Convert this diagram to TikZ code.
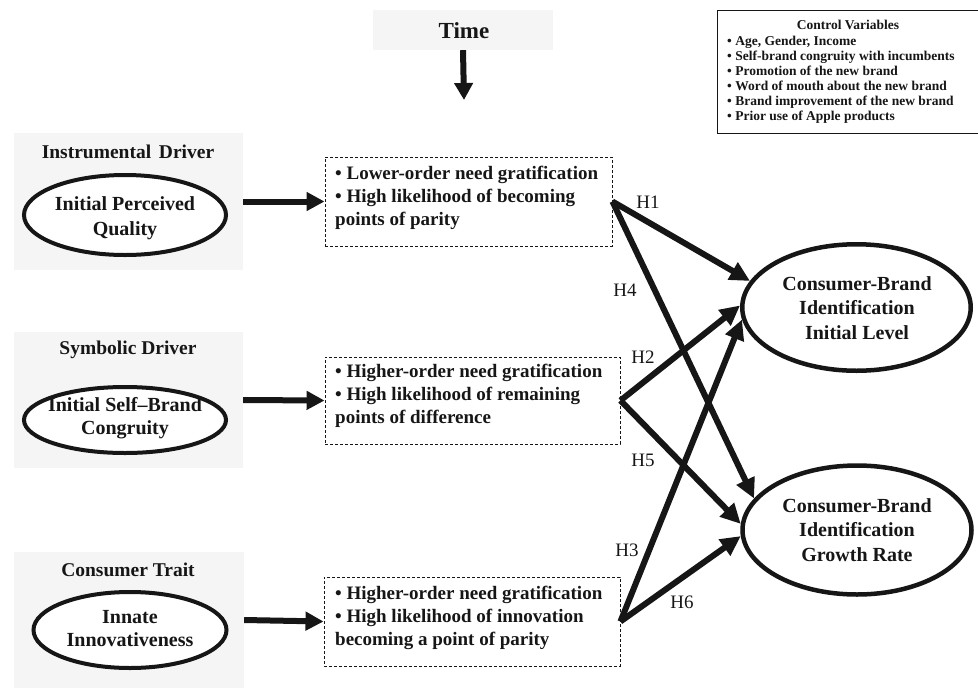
\documentclass[tikz,border=0pt]{standalone}
\usepackage{fontspec}
\setmainfont{Liberation Serif}
\usetikzlibrary{shapes.geometric,arrows.meta}
\definecolor{panelgray}{RGB}{245,245,245}
\definecolor{ink}{RGB}{22,22,22}
\tikzset{
  panelbox/.style={fill=panelgray, draw=none, inner sep=0pt},
  ellnode/.style={ellipse, draw=ink, line width=4pt, fill=white, inner sep=0pt},
  bigell/.style={ellipse, draw=ink, line width=4.5pt, fill=white, inner sep=0pt},
  dashbox/.style={draw=ink, line width=0.9pt, dash pattern=on 3pt off 2pt, inner sep=0pt},
  thickarrow/.style={draw=ink, line width=6pt, -{Triangle[length=18pt,width=18pt]}},
  diagarrow/.style={draw=ink, line width=6pt, -{Triangle[length=20pt,width=19pt]}},
  paneltitle/.style={font=\fontsize{19.5}{23}\selectfont\bfseries, text=ink, inner sep=0pt},
  elltext/.style={font=\fontsize{20}{24.5}\selectfont\bfseries, text=ink, align=center, inner sep=0pt},
  boxtext/.style={font=\fontsize{19}{23}\selectfont\bfseries, text=ink, align=left, anchor=west, inner sep=0pt},
  hlabel/.style={font=\fontsize{19}{22}\selectfont, text=ink, inner sep=0pt},
  ctrltext/.style={font=\fontsize{13.5}{15}\selectfont\bfseries, text=ink, inner sep=0pt}
}
\begin{document}
\begin{tikzpicture}[x=1pt,y=-1pt]
\useasboundingbox (0,0) rectangle (978,689);

% Time
\node[panelbox, minimum width=180pt, minimum height=40pt] (time) at (463,30) {};
\node[font=\fontsize{23}{26}\selectfont\bfseries, text=ink, inner sep=0pt] (timet) at (464,31) {Time};
\coordinate (timetip) at (464,100);
\draw[draw=ink, line width=6pt, -{Triangle[length=17pt,width=18pt]}] (time.south) -- (timetip);

% Control variables
\node[draw=ink, line width=1.2pt, minimum width=266pt, minimum height=123pt, inner sep=0pt, anchor=north west] (ctrl) at (717,10) {};
\node[ctrltext] (ctrlt) at (848,25) {Control Variables};
\node[ctrltext, align=left, anchor=west] (ctrll) at (727,79.5) {%
• Age, Gender, Income\\
• Self-brand congruity with incumbents\\
• Promotion of the new brand\\
• Word of mouth about the new brand\\
• Brand improvement of the new brand\\
• Prior use of Apple products};

% Left panels
\node[panelbox, minimum width=229pt, minimum height=137pt] (p1) at (128.5,201.5) {};
\node[panelbox, minimum width=229pt, minimum height=136pt] (p2) at (128.5,400) {};
\node[panelbox, minimum width=230pt, minimum height=136pt] (p3) at (129,620) {};

\node[paneltitle] (t1) at (128,152) {Instrumental\hspace{0.4em}Driver};
\node[paneltitle] (t2) at (128,350) {Symbolic Driver};
\node[paneltitle] (t3) at (128,570) {Consumer Trait};

\node[ellnode, minimum width=202pt, minimum height=80pt] (l1) at (125,215) {};
\node[elltext] (l1t) at (125,218) {Initial Perceived\\Quality};
\node[ellnode, minimum width=202pt, minimum height=66pt] (l2) at (125,420) {};
\node[elltext, font=\fontsize{20}{22.5}\selectfont\bfseries] (l2t) at (125,418) {Initial Self–Brand\\Congruity};
\node[ellnode, minimum width=193pt, minimum height=76pt] (l3) at (130,630) {};
\node[elltext, font=\fontsize{20}{23}\selectfont\bfseries] (l3t) at (130,629) {Innate\\Innovativeness};

% Dashed boxes
\node[dashbox, minimum width=287pt, minimum height=89pt] (b1) at (468.5,201.5) {};
\node[dashbox, minimum width=295pt, minimum height=87pt] (b2) at (472.5,400.5) {};
\node[dashbox, minimum width=296pt, minimum height=89pt] (b3) at (472,621.5) {};

\node[boxtext] (b1t) at (335,198) {• Lower-order need gratification\\• High likelihood of becoming\\points of parity};
\node[boxtext] (b2t) at (335,396) {• Higher-order need gratification\\• High likelihood of remaining\\points of difference};
\node[boxtext] (b3t) at (335,618) {• Higher-order need gratification\\• High likelihood of innovation\\becoming a point of parity};

% Horizontal arrows
\draw[thickarrow] (p1.east) -- (b1.west);
\draw[thickarrow] (p2.east) -- (b2.west);
\draw[thickarrow] (p3.east) -- (b3.west);

% Outcome ellipses
\node[bigell, minimum width=228.5pt, minimum height=126.5pt] (e1) at (856.5,307.5) {};
\node[elltext] (e1t) at (857,308) {Consumer-Brand\\Identification\\Initial Level};
\node[bigell, minimum width=229pt, minimum height=129pt] (e2) at (857,530) {};
\node[elltext] (e2t) at (857,530) {Consumer-Brand\\Identification\\Growth Rate};

% Hypothesis arrows
\draw[diagarrow] (b1.east) -- (e1.166);
\draw[diagarrow] (b1.east) -- (e2.163);
\draw[diagarrow] (b2.east) -- (e1.179);
\draw[diagarrow] (b2.east) -- (e2.177);
\draw[diagarrow] (b3.east) -- (e1.186);
\draw[diagarrow] (b3.east) -- (e2.183);

% Labels
\node[hlabel] (h1) at (648,202) {H1};
\node[hlabel] (h4) at (625,290) {H4};
\node[hlabel] (h2) at (643,357) {H2};
\node[hlabel] (h5) at (643,460) {H5};
\node[hlabel] (h3) at (627,550) {H3};
\node[hlabel] (h6) at (682,602) {H6};
\end{tikzpicture}
\end{document}
